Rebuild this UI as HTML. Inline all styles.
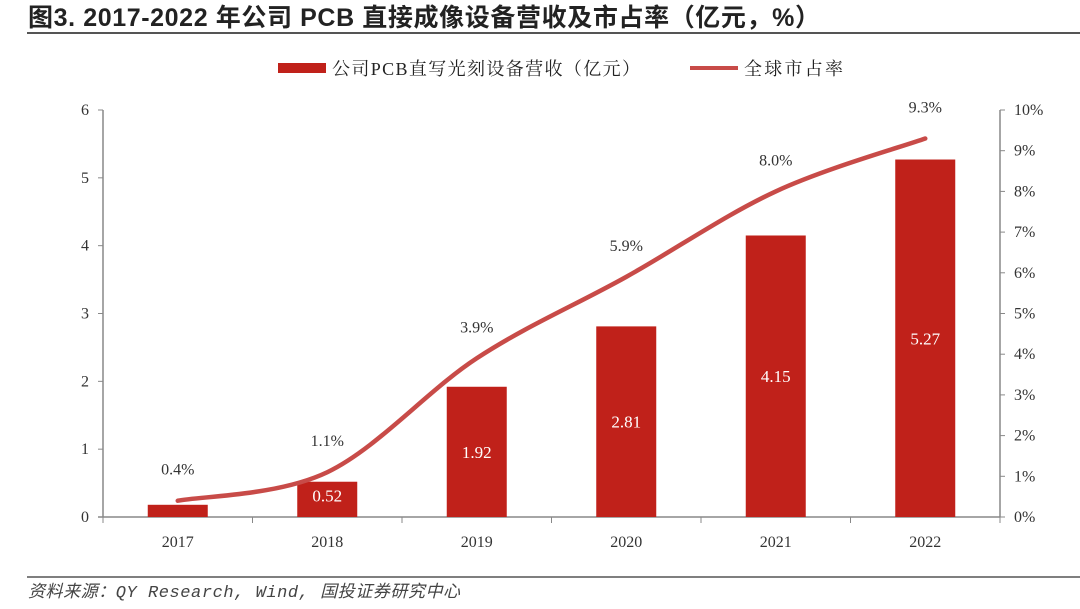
<!DOCTYPE html>
<html><head><meta charset="utf-8"><style>
body{margin:0;background:#fff;width:1080px;height:604px;overflow:hidden;font-family:"Liberation Serif","Noto Serif CJK SC",serif}
</style></head><body>
<svg width="1080" height="604">
<text x="28" y="26" textLength="792" lengthAdjust="spacing" font-family="Liberation Sans,Noto Sans CJK SC,sans-serif" font-weight="bold" font-size="25" fill="#222">图3. 2017-2022 年公司 PCB 直接成像设备营收及市占率（亿元，%）</text>
<line x1="27" y1="33" x2="1080" y2="33" stroke="#555" stroke-width="2"/>
<g>
<rect x="278" y="63" width="48" height="10" fill="#C0211A"/>
<text x="332" y="75" textLength="308" lengthAdjust="spacing" font-size="18" fill="#222" font-family="Liberation Serif,Noto Serif CJK SC,serif">公司PCB直写光刻设备营收（亿元）</text>
<line x1="690" y1="68" x2="738" y2="68" stroke="#C84B48" stroke-width="4"/>
<text x="744" y="75" textLength="99" lengthAdjust="spacing" font-size="18" fill="#222" font-family="Liberation Serif,Noto Serif CJK SC,serif">全球市占率</text>
</g>
<g id="axes"></g>
<g id="marks"></g>
<line x1="27" y1="577" x2="1080" y2="577" stroke="#555" stroke-width="1.5"/>
<text x="28" y="597" textLength="432" lengthAdjust="spacing" font-size="17" font-style="italic" fill="#444" font-family="Liberation Mono,Noto Sans CJK SC,monospace">资料来源：QY Research, Wind, 国投证券研究中心</text>
</svg>
<script>
const categories=["2017","2018","2019","2020","2021","2022"];
const revenue=[0.18,0.52,1.92,2.81,4.15,5.27];
const revenueLabels=["0.18","0.52","1.92","2.81","4.15","5.27"];
const share=[0.4,1.1,3.9,5.9,8.0,9.3];
const leftTicks=[0,1,2,3,4,5,6];
const rightTicks=[0,1,2,3,4,5,6,7,8,9,10];
const NS="http://www.w3.org/2000/svg";
const X0=103,X1=1000,Y0=517,Y1=110;
const step=(X1-X0)/categories.length;
const xc=i=>X0+step*(i+0.5);
const yL=v=>Y0-(v/6)*(Y0-Y1);
const yR=v=>Y0-(v/10)*(Y0-Y1);
function mk(t,a,p){const e=document.createElementNS(NS,t);for(const k in a)e.setAttribute(k,a[k]);p.appendChild(e);return e;}
const ax=document.getElementById('axes'),mg=document.getElementById('marks');
let e=mk('line',{x1:X0,y1:Y1,x2:X0,y2:Y0,stroke:'#888','stroke-width':1.5},ax);


e=mk('line',{x1:X1,y1:Y1,x2:X1,y2:Y0,stroke:'#888','stroke-width':1.5},ax);


e=mk('line',{x1:X0-5,y1:Y0,x2:X1,y2:Y0,stroke:'#888','stroke-width':1.5},ax);


leftTicks.forEach(v=>{const y=yL(v);
mk('line',{x1:X0-5,y1:y,x2:X0,y2:y,stroke:'#888'},ax);
const t=mk('text',{x:X0-14,y:y+5,'text-anchor':'end','font-size':16,fill:'#333'},ax);t.textContent=v;

});
rightTicks.forEach(v=>{const y=yR(v);
mk('line',{x1:X1,y1:y,x2:X1+5,y2:y,stroke:'#888'},ax);
const t=mk('text',{x:X1+14,y:y+5,'font-size':16,fill:'#333'},ax);t.textContent=v+'%';

});
for(let i=0;i<=categories.length;i++){mk('line',{x1:X0+step*i,y1:Y0,x2:X0+step*i,y2:Y0+6,stroke:'#888'},ax);}
categories.forEach((c,i)=>{const t=mk('text',{x:xc(i),y:Y0+30,'text-anchor':'middle','font-size':16,fill:'#333'},ax);t.textContent=c;

});
const bw=60;
revenue.forEach((v,i)=>{const r=mk('rect',{x:xc(i)-bw/2,y:yL(v),width:bw,height:Y0-yL(v),fill:'#C0211A'},mg);


let ty=(yL(v)+Y0)/2+6;
if(i==0)ty=yL(v)-2;
if(i==1)ty=yL(v)+20;
const t=mk('text',{x:xc(i),y:ty,'text-anchor':'middle','font-size':17,fill:'#fff'},mg);
t.textContent=revenueLabels[i];

});
const pts=share.map((v,i)=>[xc(i),yR(v)]);
let d='M'+pts[0][0]+','+pts[0][1];
for(let i=0;i<pts.length-1;i++){const p0=pts[Math.max(0,i-1)],p1=pts[i],p2=pts[i+1],p3=pts[Math.min(pts.length-1,i+2)];
const c1=[p1[0]+(p2[0]-p0[0])/6,p1[1]+(p2[1]-p0[1])/6],c2=[p2[0]-(p3[0]-p1[0])/6,p2[1]-(p3[1]-p1[1])/6];
d+=` C${c1[0]},${c1[1]} ${c2[0]},${c2[1]} ${p2[0]},${p2[1]}`;}
const pl=mk('path',{d:d,fill:'none',stroke:'#C84B48','stroke-width':4.5,'stroke-linecap':'round'},mg);


share.forEach((v,i)=>{const t=mk('text',{x:xc(i),y:yR(v)-26,'text-anchor':'middle','font-size':16,fill:'#333'},mg);t.textContent=v.toFixed(1)+'%';

});
</script>
</body></html>
